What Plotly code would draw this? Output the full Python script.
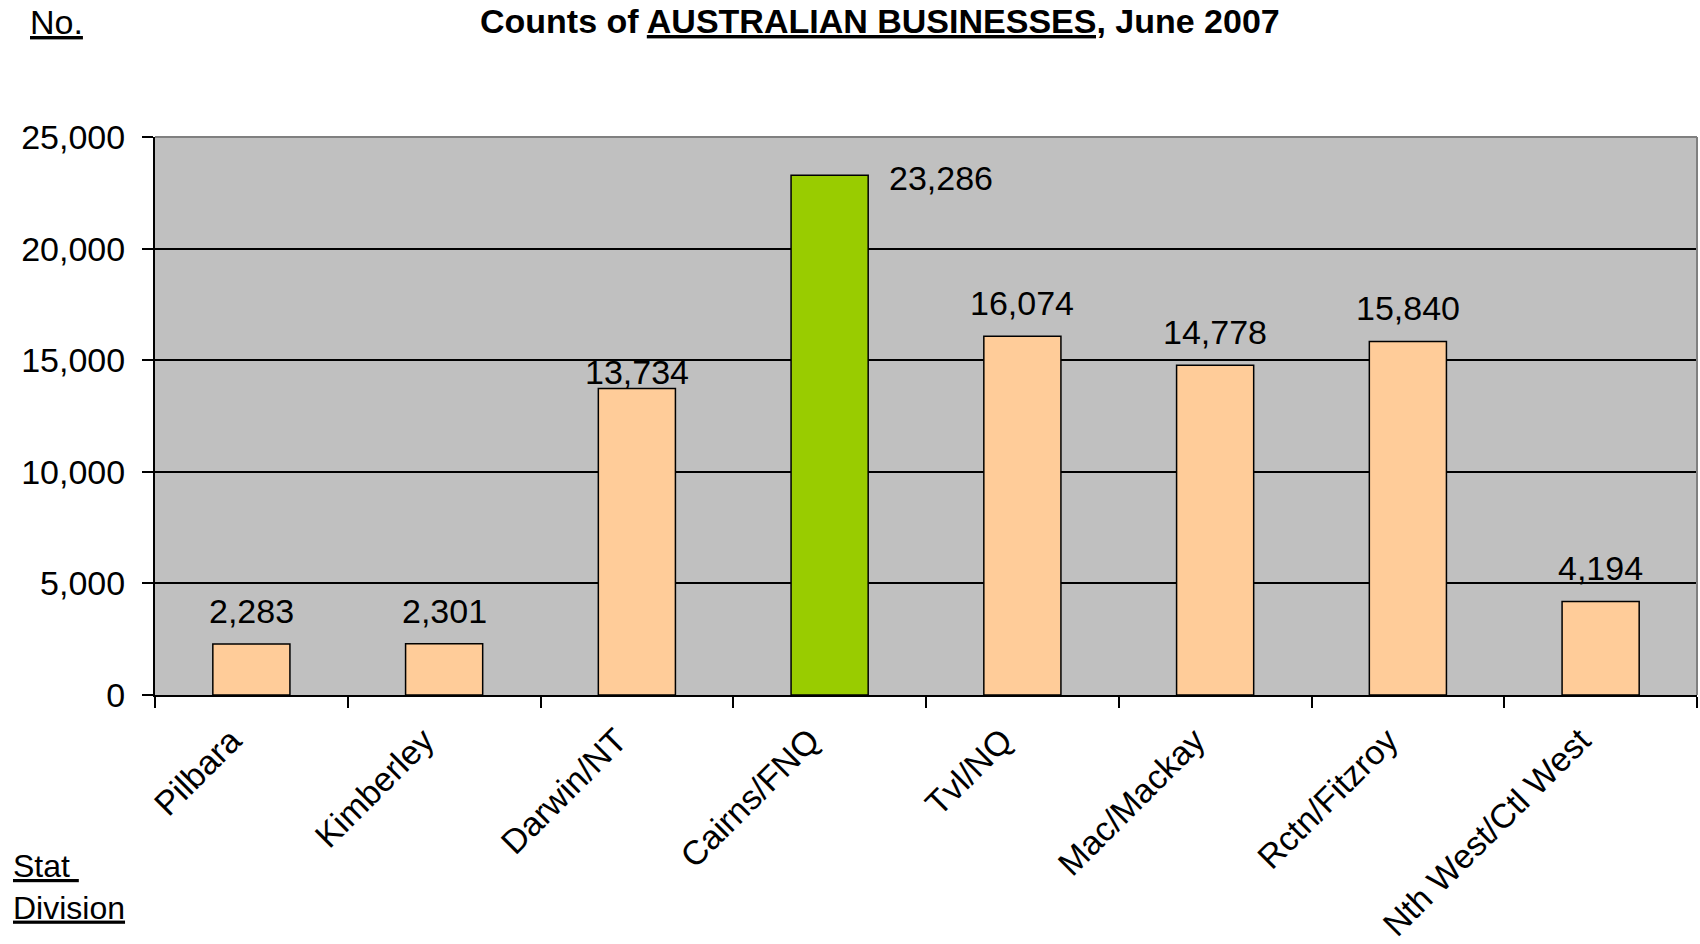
import plotly.graph_objects as go

categories = ["Pilbara", "Kimberley", "Darwin/NT", "Cairns/FNQ", "Tvl/NQ",
              "Mac/Mackay", "Rctn/Fitzroy", "Nth West/Ctl West"]
counts = [2283, 2301, 13734, 23286, 16074, 14778, 15840, 4194]
highlight = "Cairns/FNQ"
y_ticks = [0, 5000, 10000, 15000, 20000, 25000]

W, H = 1700, 944
ML, MR, MT, MB = 155, 3, 137, 249
PW = W - ML - MR
PH = H - MT - MB

def px_x(px):
    return (px - ML) / PW

def px_y(py):
    return (H - MB - py) / PH

FONT = "Liberation Sans, Arial, sans-serif"
FS = 34
colors = ["#99CC00" if c == highlight else "#FFCC99" for c in categories]

fig = go.Figure()
fig.add_trace(go.Bar(
    x=categories, y=counts, width=0.4,
    marker=dict(color=colors, line=dict(color="black", width=1.5)),
    hoverinfo="skip",
))

# value labels
label_shift = {"Darwin/NT": (0, 16), "Cairns/FNQ": (111, -3)}
for c, v in zip(categories, counts):
    dx, dy = label_shift.get(c, (0, 33))
    fig.add_annotation(x=c, y=v, xref="x", yref="y", text=f"{v:,}",
                       showarrow=False, xshift=dx, yshift=dy,
                       xanchor="center", yanchor="middle",
                       font=dict(family=FONT, size=FS, color="black"))

# title
fig.add_annotation(
    x=px_x(880), y=px_y(0), xref="paper", yref="paper",
    text="<b>Counts of <u>AUSTRALIAN BUSINESSES,</u> June 2007</b>",
    showarrow=False, xanchor="center", yanchor="top",
    font=dict(family=FONT, size=34, color="black"))

fig.add_annotation(
    x=px_x(28), y=px_y(22), xref="paper", yref="paper",
    text="<u>No.</u>", showarrow=False, xanchor="left", yanchor="middle",
    font=dict(family=FONT, size=FS, color="black"))

fig.add_annotation(
    x=px_x(11), y=px_y(887), xref="paper", yref="paper",
    text="<u>Stat </u><br><u>Division</u>", showarrow=False,
    xanchor="left", yanchor="middle", align="left",
    font=dict(family=FONT, size=32, color="black"))

# grey top/right frame
fig.add_shape(type="line", xref="paper", yref="paper", x0=0, x1=1, y0=1, y1=1,
              line=dict(color="#808080", width=2), layer="above")
fig.add_shape(type="line", xref="paper", yref="paper", x0=1, x1=1, y0=0, y1=1,
              line=dict(color="#808080", width=2), layer="above")

fig.update_layout(
    template="none",
    width=W, height=H,
    margin=dict(l=ML, r=MR, t=MT, b=MB, autoexpand=False),
    paper_bgcolor="white", plot_bgcolor="#C0C0C0",
    showlegend=False,
    font=dict(family=FONT, size=FS, color="black"),
)
fig.update_xaxes(
    type="category", categoryorder="array", categoryarray=categories,
    showline=True, linecolor="black", linewidth=2,
    ticks="outside", tickson="boundaries", ticklen=11, tickwidth=2, tickcolor="black",
    tickangle=-45, showgrid=False, automargin=False,
    ticklabelshift=-20, ticklabelstandoff=10,
    tickfont=dict(family=FONT, size=FS, color="black"),
)
fig.update_yaxes(
    range=[0, 25000], tickvals=y_ticks, tickformat=",",
    showline=True, linecolor="black", linewidth=2,
    ticks="outside", ticklen=11, tickwidth=2, tickcolor="black",
    showgrid=True, gridcolor="black", gridwidth=1.5, zeroline=False,
    automargin=False, ticklabelstandoff=10,
    tickfont=dict(family=FONT, size=FS, color="black"),
)

fig.write_html(
    "out.html",
    config={"displayModeBar": False},
    post_script="document.body.style.margin='0';document.body.style.overflow='hidden';",
)
